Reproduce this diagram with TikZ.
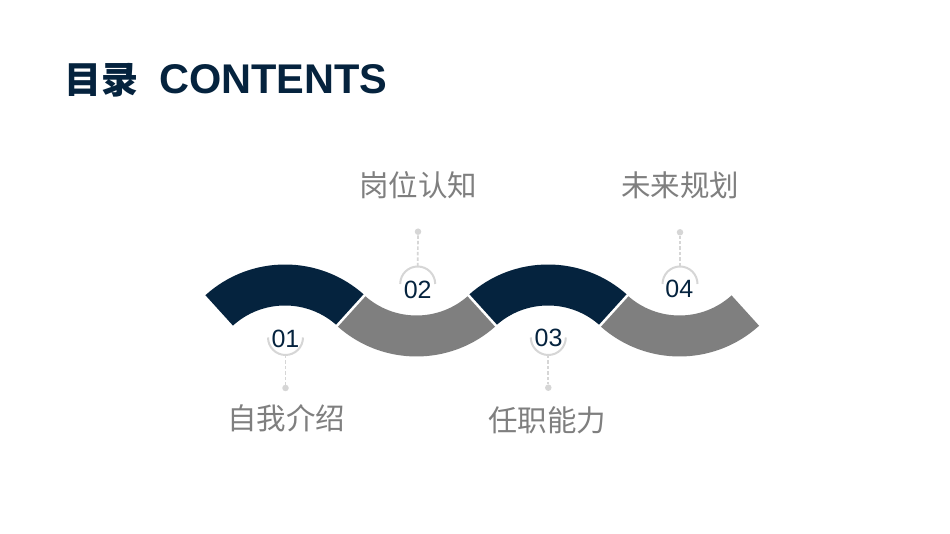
\documentclass[tikz,border=0pt]{standalone}
\usepackage{fontspec}
\setmainfont{Liberation Sans}
\newfontfamily\cjk{Noto Sans CJK SC}
\usetikzlibrary{calc}
\definecolor{navy}{HTML}{05233E}
\definecolor{bandgray}{HTML}{7F7F7F}
\definecolor{lblgray}{HTML}{7F7F7F}
\definecolor{ringgray}{HTML}{D6D6D6}
\begin{document}
\begin{tikzpicture}[x=1pt,y=1pt,
  lab/.style={inner sep=0pt, text=lblgray, font=\cjk\fontsize{29.5}{32}\selectfont},
  num/.style={inner sep=0pt, text=navy, font=\fontsize{25}{27}\selectfont},
  ringline/.style={draw=ringgray, line width=2pt},
  dashline/.style={draw=ringgray, line width=1.7pt, dash pattern=on 3.5pt off 2pt},
  dotnode/.style={circle, fill=ringgray, inner sep=0pt, minimum size=6.5pt},
  gapline/.style={draw=white, line width=2.5pt}]
\useasboundingbox (0,0) rectangle (950,534);
\fill[white] (0,0) rectangle (950,534);

% title
\node[anchor=base west, inner sep=0pt, text=navy, font=\bfseries] (title) at (64,440)
  {{\cjk\fontsize{37}{40}\selectfont 目录}\hspace{21pt}{\fontsize{41.5}{46}\selectfont CONTENTS}};

% band centres
\coordinate (d1) at (285,151);
\coordinate (g1) at (416.5,296);
\coordinate (d2) at (548,151);
\coordinate (g2) at (679.5,296);

% dark bands
\foreach \c in {d1,d2}{
  \fill[navy] ($(\c)+(47.8:118.5)$) arc[start angle=47.8,end angle=132.2,radius=118.5]
    -- ($(\c)+(132.2:77.5)$) arc[start angle=132.2,end angle=47.8,radius=77.5] -- cycle;
}
% gray bands
\foreach \c in {g1,g2}{
  \fill[bandgray] ($(\c)+(227.8:118.5)$) arc[start angle=227.8,end angle=312.2,radius=118.5]
    -- ($(\c)+(312.2:77.5)$) arc[start angle=312.2,end angle=227.8,radius=77.5] -- cycle;
}
% white separators
\draw[gapline] ($(d1)+(47.8:70)$) -- ($(d1)+(47.8:126)$);
\draw[gapline] ($(g1)+(312.2:70)$) -- ($(g1)+(312.2:126)$);
\draw[gapline] ($(d2)+(47.8:70)$) -- ($(d2)+(47.8:126)$);

% rings
\coordinate (c1) at (285.5,196.5);
\coordinate (c2) at (417.7,250);
\coordinate (c3) at (548.3,196.5);
\coordinate (c4) at (680,250);
\foreach \c in {c1,c3}{
  \draw[ringline] ($(\c)+(180:17.5)$) arc[start angle=180,end angle=360,radius=17.5];
}
\foreach \c in {c2,c4}{
  \draw[ringline] ($(\c)+(0:17.5)$) arc[start angle=0,end angle=180,radius=17.5];
}
\coordinate (b1) at ($(c1)+(0,-17.5)$);
\coordinate (b2) at ($(c2)+(0,17.5)$);
\coordinate (b3) at ($(c3)+(0,-17.5)$);
\coordinate (b4) at ($(c4)+(0,17.5)$);

% dots
\node[dotnode] (p1) at (285.5,146) {};
\node[dotnode] (p2) at (418,302.3) {};
\node[dotnode] (p3) at (548.3,146.3) {};
\node[dotnode] (p4) at (680,301.7) {};

\draw[dashline] (b1) -- (p1);
\draw[dashline] (b2) -- (p2);
\draw[dashline] (b3) -- (p3);
\draw[dashline] (b4) -- (p4);

% numbers
\node[num] (n1) at (285.5,195.5) {01};
\node[num] (n2) at (417.7,244.5) {02};
\node[num] (n3) at (548.5,196.5) {03};
\node[num] (n4) at (679.3,245.5) {04};

% labels
\node[lab] (t1) at (286,115.5) {自我介绍};
\node[lab] (t2) at (418,349) {岗位认知};
\node[lab] (t3) at (547,114) {任职能力};
\node[lab] (t4) at (680,349) {未来规划};
\end{tikzpicture}
\end{document}
